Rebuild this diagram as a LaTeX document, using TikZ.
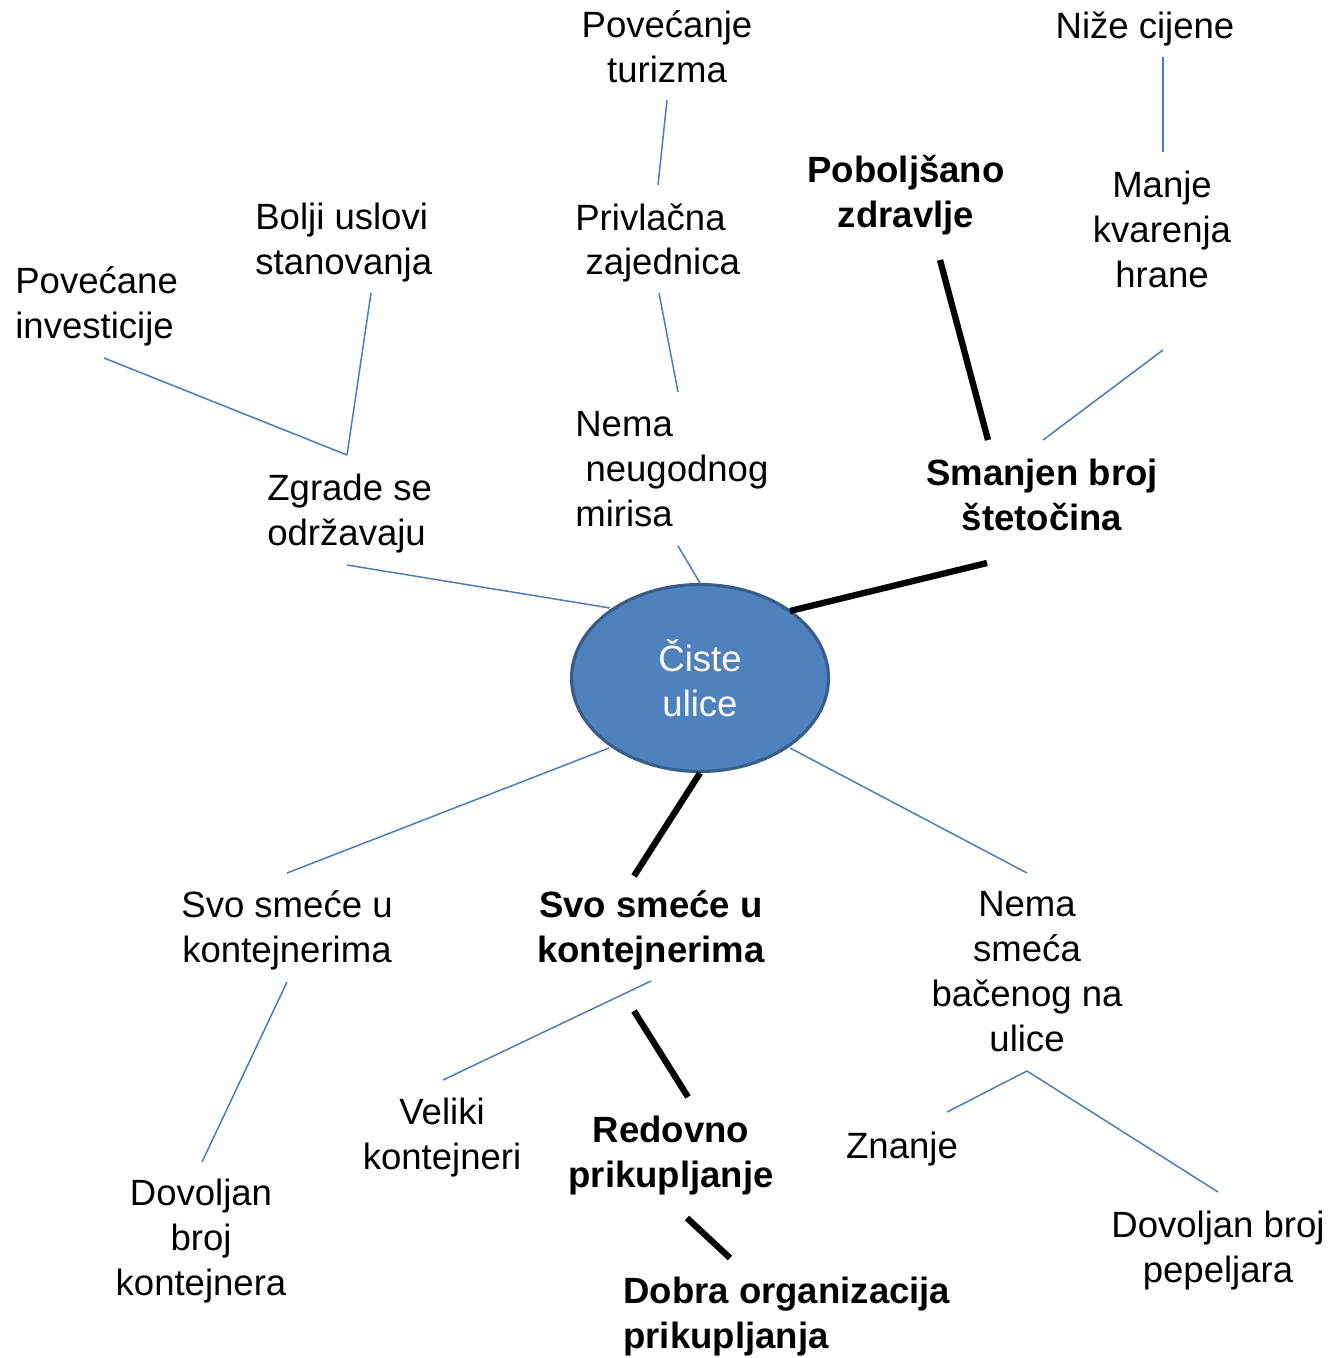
\documentclass[tikz,border=0pt]{standalone}
\usepackage{fontspec}
\setmainfont{Liberation Sans}
\usetikzlibrary{calc,shapes.geometric}
\definecolor{linkblue}{HTML}{4A7EBB}
\definecolor{ellfill}{HTML}{4F81BD}
\definecolor{elldraw}{HTML}{385D8A}
\begin{document}
\begin{tikzpicture}[x=0.02cm,y=-0.02cm,
  txt/.style={inner sep=0pt, font=\fontsize{20.8}{25.6}\selectfont,
    execute at begin node={\rule{0pt}{0.92em}},
    execute at end node={\rule[-0.2em]{0pt}{0.2em}}},
  ctxt/.style={txt, align=center},
  ltxt/.style={txt, align=left, anchor=west},
  bold/.style={font=\fontsize{20.8}{25.6}\selectfont\bfseries},
  bl/.style={draw=linkblue, line width=0.85pt},
  blk/.style={draw=black, line width=3.6pt},
  hub/.style={ellipse, fill=ellfill, draw=elldraw, line width=1.8pt,
    minimum width=5.14cm, minimum height=3.74cm, inner sep=0pt,
    text=white, align=center, font=\fontsize{20.8}{25.6}\selectfont}]
\useasboundingbox (0,0) rectangle (1330,1358);
\fill[white] (0,0) rectangle (1330,1358);

% nodes
\node[ctxt] (pt) at (667,50) {Povećanje\\turizma};
\node[ctxt] (nc) at (1145,25) {Niže cijene};
\node[ctxt,bold] (pz) at (906,195) {Poboljšano\\zdravlje};
\node[ctxt] (mk) at (1162,233) {Manje\\kvarenja\\hrane};
\node[ltxt] (bu) at (255,243) {Bolji uslovi\\stanovanja};
\node[ltxt] (pr) at (575,243) {Privlačna\\\ zajednica};
\node[ltxt] (pi) at (15,306.5) {Povećane\\investicije};
\node[ltxt] (nm) at (575,473) {Nema\\\ neugodnog\\mirisa};
\node[ltxt] (zg) at (267,514) {Zgrade se\\održavaju};
\node[ctxt,bold] (sb) at (1042,498.5) {Smanjen broj\\štetočina};
\node[hub] (el) at (700,678) {Čiste\\ulice};
\node[ctxt] (sr) at (287,930.5) {Svo smeće u\\kontejnerima};
\node[ctxt,bold] (sk) at (651,930.5) {Svo smeće u\\kontejnerima};
\node[ctxt] (ns) at (1027,975.5) {Nema\\smeća\\bačenog na\\ulice};
\node[ctxt] (vk) at (442,1137.5) {Veliki\\kontejneri};
\node[ctxt,bold] (rp) at (671,1155.5) {Redovno\\prikupljanje};
\node[ctxt] (zn) at (902,1145) {Znanje};
\node[ctxt] (dk) at (201,1241) {Dovoljan\\broj\\kontejnera};
\node[ctxt] (dp) at (1218,1250.5) {Dovoljan broj\\pepeljara};
\node[ltxt,bold] (do) at (623,1316.5) {Dobra organizacija\\prikupljanja};

% connectors
\draw[bl] ($(pt)+(0,50)$) -- ($(pr.west)+(83,-58)$);
\draw[bl] ($(nc)+(18,32)$) -- ($(mk)+(1,-81)$);
\draw[blk] ($(pz)+(34,65)$) -- ($(sb)+(-54,-58.5)$);
\draw[bl] ($(mk)+(1,117)$) -- ($(sb)+(1,-58.5)$);
\draw[bl] ($(bu.west)+(116,50)$) -- ($(zg.west)+(80,-59)$);
\draw[bl] ($(pi.west)+(89,51.5)$) -- ($(zg.west)+(80,-59)$);
\draw[bl] ($(pr.west)+(84,50)$) -- ($(nm.west)+(103,-81)$);
\draw[bl] ($(zg.west)+(80,51)$) -- ($(el)+(-90,-70)$);
\draw[bl] ($(nm.west)+(103,73)$) -- ($(el)+(0,-95)$);
\draw[blk] ($(sb)+(-55,64.5)$) -- ($(el)+(90,-67)$);
\draw[bl] ($(el)+(-91,70)$) -- ($(sr)+(0,-57.5)$);
\draw[blk] ($(el)+(0,95)$) -- ($(sk)+(-17,-54.5)$);
\draw[bl] ($(el)+(90,70)$) -- ($(ns)+(0,-102.5)$);
\draw[bl] ($(sr)+(0,51.5)$) -- ($(dk)+(1,-79)$);
\draw[bl] ($(sk)+(0,50.5)$) -- ($(vk)+(1,-57.5)$);
\draw[blk] ($(sk)+(-17,80.5)$) -- ($(rp)+(17,-58.5)$);
\draw[blk] ($(rp)+(16,62.5)$) -- ($(do.west)+(107,-58.5)$);
\draw[bl] ($(ns)+(0,95.5)$) -- ($(zn)+(45,-33)$);
\draw[bl] ($(ns)+(0,95.5)$) -- ($(dp)+(0,-58.5)$);
\end{tikzpicture}
\end{document}
